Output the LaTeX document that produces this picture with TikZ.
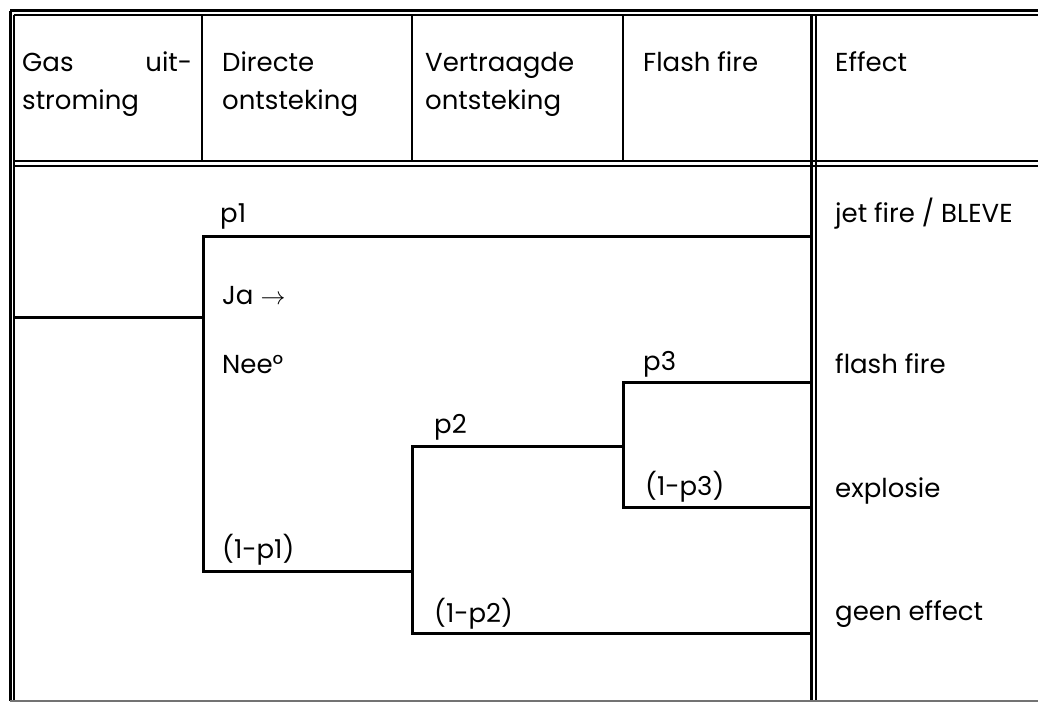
\documentclass[tikz,border=0pt]{standalone}
\usepackage{fontspec}
\setmainfont{Poppins}
\begin{document}
\begin{tikzpicture}[x=1pt,y=-1pt,
  outer/.style={line width=3pt},
  inner/.style={line width=2pt},
  divider/.style={line width=2.6pt},
  branch/.style={line width=3pt, line cap=rect},
  lbl/.style={anchor=base west, inner sep=0pt, font=\fontsize{26}{30}\selectfont},
]
\useasboundingbox (0,0) rectangle (1038,703);

% table frame: double rules on top, left, under the header and before the effect column
\draw[outer] (10,11) -- (1038,11);
\draw[inner] (14,15) -- (1038,15);
\draw[outer] (10,11) -- (10,701);
\draw[inner] (14,15) -- (14,701);
\draw[inner] (14,161) -- (1038,161);
\draw[inner] (14,166) -- (1038,166);
\draw[outer] (811,15) -- (811,701);
\draw[inner] (816,15) -- (816,701);
\draw[line width=2pt, black!55] (10,701) -- (1038,701);

% header column dividers
\foreach \cx in {202,412,623}
  \draw[divider] (\cx,15) -- (\cx,161);

% header texts
\node[lbl] (h1a) at (22,72) {\makebox[170pt][s]{Gas\hfill uit-}};
\node[lbl] (h1b) at (22,110) {stroming};
\node[lbl] (h2a) at (222,72) {Directe};
\node[lbl] (h2b) at (222,110) {ontsteking};
\node[lbl] (h3a) at (425,72) {Vertraagde};
\node[lbl] (h3b) at (425,110) {ontsteking};
\node[lbl] (h4a) at (643,72) {Flash fire};
\node[lbl] (h5a) at (835,72) {Effect};

% event tree branch points
\coordinate (root) at (14,317);
\coordinate (n1)   at (203,317);
\coordinate (n1t)  at (203,237);
\coordinate (n1b)  at (203,571);
\coordinate (e1)   at (811,237);
\coordinate (n2)   at (412,571);
\coordinate (n2t)  at (412,446);
\coordinate (n2b)  at (412,633);
\coordinate (e4)   at (811,633);
\coordinate (n3)   at (623,446);
\coordinate (n3t)  at (623,382);
\coordinate (n3b)  at (623,507);
\coordinate (e2)   at (811,382);
\coordinate (e3)   at (811,507);

\draw[branch] (root) -- (n1);
\draw[branch] (n1t) -- (n1b);
\draw[branch] (n1t) -- (e1);
\draw[branch] (n1b) -- (n2);
\draw[branch] (n2t) -- (n2b);
\draw[branch] (n2t) -- (n3);
\draw[branch] (n2b) -- (e4);
\draw[branch] (n3t) -- (n3b);
\draw[branch] (n3t) -- (e2);
\draw[branch] (n3b) -- (e3);

% branch labels
\node[lbl] (lp1)  at (220,223) {p1};
\node[lbl] (lja)  at (222,304) {Ja $\rightarrow$};
\node[lbl] (lnee) at (222,373) {Nee°};
\node[lbl] (lq1)  at (222,558) {(1-p1)};
\node[lbl] (lp2)  at (434,433) {p2};
\node[lbl] (lq2)  at (434,622) {(1-p2)};
\node[lbl] (lp3)  at (643,370) {p3};
\node[lbl] (lq3)  at (645,495) {(1-p3)};

% effects
\node[lbl] (ef1) at (835,223) {jet fire / BLEVE};
\node[lbl] (ef2) at (835,373) {flash fire};
\node[lbl] (ef3) at (835,497) {explosie};
\node[lbl] (ef4) at (835,620) {geen effect};
\end{tikzpicture}
\end{document}
